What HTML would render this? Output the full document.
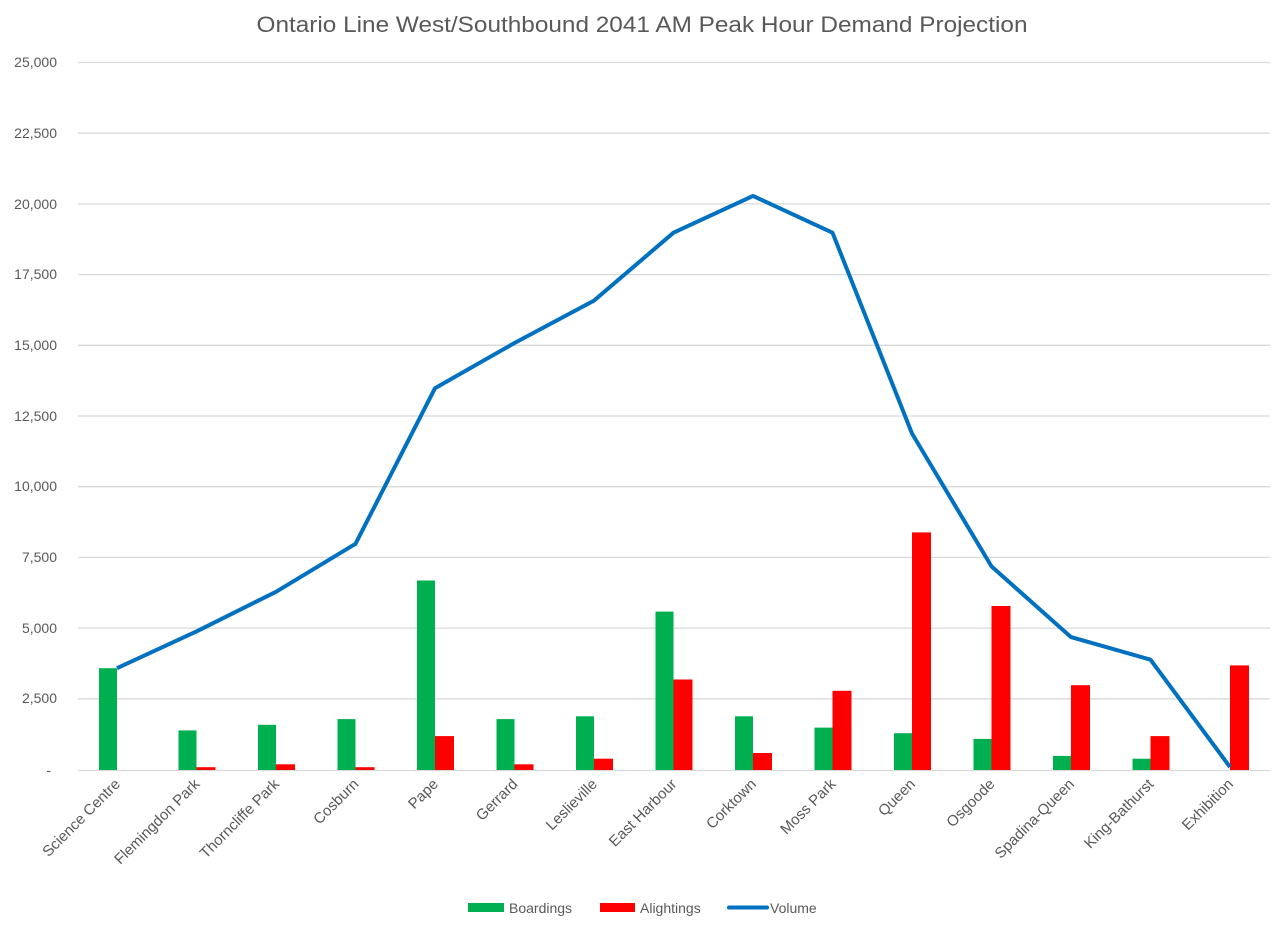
<!DOCTYPE html>
<html><head><meta charset="utf-8"><style>
html,body{margin:0;padding:0;background:#fff;}
svg{display:block;font-family:"Liberation Sans",sans-serif;}
</style></head><body>
<svg width="1280" height="929" viewBox="0 0 1280 929" xmlns="http://www.w3.org/2000/svg">
<rect width="1280" height="929" fill="#fff"/>
<text x="642" y="32" text-anchor="middle" font-size="22" fill="#595959" textLength="771" lengthAdjust="spacingAndGlyphs">Ontario Line West/Southbound 2041 AM Peak Hour Demand Projection</text>
<g stroke="#d9d9d9" stroke-width="1.3">
<line x1="78" x2="1270" y1="62.5" y2="62.5"/>
<line x1="78" x2="1270" y1="133.2" y2="133.2"/>
<line x1="78" x2="1270" y1="203.9" y2="203.9"/>
<line x1="78" x2="1270" y1="274.6" y2="274.6"/>
<line x1="78" x2="1270" y1="345.3" y2="345.3"/>
<line x1="78" x2="1270" y1="416" y2="416"/>
<line x1="78" x2="1270" y1="486.7" y2="486.7"/>
<line x1="78" x2="1270" y1="557.4" y2="557.4"/>
<line x1="78" x2="1270" y1="628.1" y2="628.1"/>
<line x1="78" x2="1270" y1="698.8" y2="698.8"/>
<line x1="78" x2="1270" y1="770.5" y2="770.5"/>
</g>
<g font-size="14" fill="#595959" text-anchor="end">
<text x="57" y="67">25,000</text>
<text x="57" y="138">22,500</text>
<text x="57" y="209">20,000</text>
<text x="57" y="279">17,500</text>
<text x="57" y="350">15,000</text>
<text x="57" y="421">12,500</text>
<text x="57" y="491">10,000</text>
<text x="57" y="562">7,500</text>
<text x="57" y="633">5,000</text>
<text x="57" y="703">2,500</text>
<text x="51" y="775">-</text>
</g>
<g fill="#00b050">
<rect x="99" y="668.2" width="18" height="101.8"/>
<rect x="178.5" y="730.4" width="18" height="39.6"/>
<rect x="258" y="724.8" width="18" height="45.2"/>
<rect x="337.5" y="719.1" width="18" height="50.9"/>
<rect x="417" y="580.5" width="18" height="189.5"/>
<rect x="496.5" y="719.1" width="18" height="50.9"/>
<rect x="576" y="716.3" width="18" height="53.7"/>
<rect x="655.5" y="611.6" width="18" height="158.4"/>
<rect x="735" y="716.3" width="18" height="53.7"/>
<rect x="814.5" y="727.6" width="18" height="42.4"/>
<rect x="894" y="733.2" width="18" height="36.8"/>
<rect x="973.5" y="738.9" width="18" height="31.1"/>
<rect x="1053" y="755.9" width="18" height="14.1"/>
<rect x="1132.5" y="758.7" width="18" height="11.3"/>
</g>
<g fill="#ff0000">
<rect x="196.5" y="767.2" width="19" height="2.8"/>
<rect x="276" y="764.3" width="19" height="5.7"/>
<rect x="355.5" y="767.2" width="19" height="2.8"/>
<rect x="435" y="736.1" width="19" height="33.9"/>
<rect x="514.5" y="764.3" width="19" height="5.7"/>
<rect x="594" y="758.7" width="19" height="11.3"/>
<rect x="673.5" y="679.5" width="19" height="90.5"/>
<rect x="753" y="753" width="19" height="17"/>
<rect x="832.5" y="690.8" width="19" height="79.2"/>
<rect x="912" y="532.4" width="19" height="237.6"/>
<rect x="991.5" y="606" width="19" height="164"/>
<rect x="1071" y="685.2" width="19" height="84.8"/>
<rect x="1150.5" y="736.1" width="19" height="33.9"/>
<rect x="1230" y="665.4" width="19" height="104.6"/>
</g>
<polyline fill="none" stroke="#0070c0" stroke-width="4" stroke-linejoin="round" points="117,668.2 196.5,631.4 276,591.8 355.5,543.8 435,388.2 514.5,343 594,300.6 673.5,232.7 753,195.9 832.5,232.7 912,433.5 991.5,566.4 1071,637.1 1150.5,659.7 1230,767"/>
<g font-size="15" fill="#595959" text-anchor="end">
<text transform="translate(121,785) rotate(-45)">Science Centre</text>
<text transform="translate(200.5,785) rotate(-45)">Flemingdon Park</text>
<text transform="translate(280,785) rotate(-45)">Thorncliffe Park</text>
<text transform="translate(359.5,785) rotate(-45)">Cosburn</text>
<text transform="translate(439,785) rotate(-45)">Pape</text>
<text transform="translate(518.5,785) rotate(-45)">Gerrard</text>
<text transform="translate(598,785) rotate(-45)">Leslieville</text>
<text transform="translate(677.5,785) rotate(-45)">East Harbour</text>
<text transform="translate(757,785) rotate(-45)">Corktown</text>
<text transform="translate(836.5,785) rotate(-45)">Moss Park</text>
<text transform="translate(916,785) rotate(-45)">Queen</text>
<text transform="translate(995.5,785) rotate(-45)">Osgoode</text>
<text transform="translate(1075,785) rotate(-45)">Spadina-Queen</text>
<text transform="translate(1154.5,785) rotate(-45)">King-Bathurst</text>
<text transform="translate(1234,785) rotate(-45)">Exhibition</text>
</g>
<g font-size="14" fill="#595959">
<rect x="468" y="903" width="36" height="9" fill="#00b050"/>
<text x="509" y="913">Boardings</text>
<rect x="600" y="903" width="35" height="9" fill="#ff0000"/>
<text x="640" y="913">Alightings</text>
<line x1="729" x2="767" y1="907.5" y2="907.5" stroke="#0070c0" stroke-width="4" stroke-linecap="round"/>
<text x="770" y="913">Volume</text>
</g>
</svg>
</body></html>
